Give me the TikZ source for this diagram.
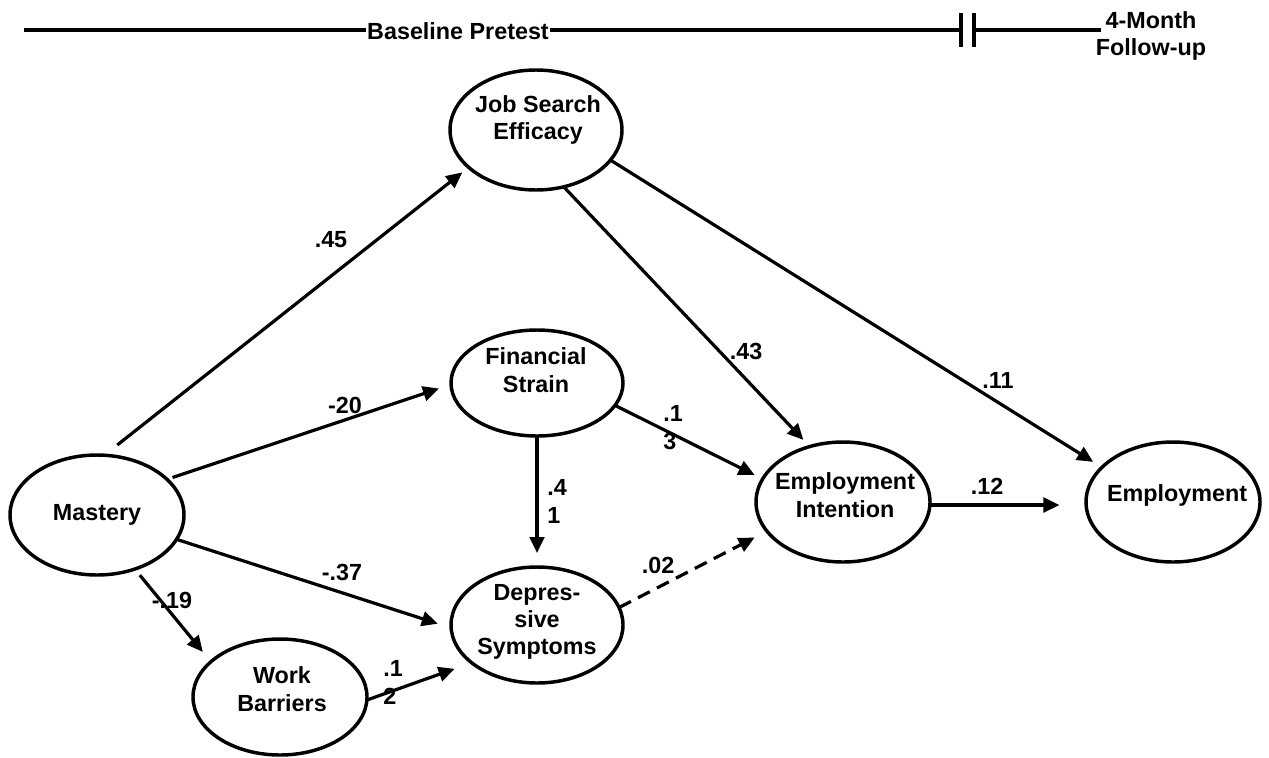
\documentclass[tikz,border=0pt]{standalone}
\usepackage{fontspec}
\setmainfont{Liberation Sans}
\usetikzlibrary{arrows.meta,shapes.geometric}
\begin{document}
\begin{tikzpicture}[x=0.75pt,y=-0.75pt,
  el/.style={draw, ellipse, line width=2.6pt, inner sep=0pt, outer sep=0pt},
  txt/.style={font=\fontsize{17.5}{20.5}\selectfont\bfseries, inner sep=0pt, align=center},
  num/.style={font=\fontsize{17.5}{21}\selectfont\bfseries, inner sep=0pt, align=left},
  conn/.style={line width=2.4pt, -{Triangle[length=12pt,width=11pt]}},
  tline/.style={line width=2.5pt}
]
\useasboundingbox (0,0) rectangle (1269,757);

% timeline
\node[txt, inner xsep=1pt] (bp) at (458,31) {Baseline Pretest};
\coordinate (t0) at (24,30);
\coordinate (g1) at (961,30);
\coordinate (g2) at (974,30);
\coordinate (g1a) at (961,13);
\coordinate (g1b) at (961,47);
\coordinate (g2a) at (974,13);
\coordinate (g2b) at (974,47);
\coordinate (t1) at (1101,30);
\node[txt] (fu) at (1151,36) {4-Month\\Follow-up};
\draw[tline] (t0) -- (bp.west |- t0);
\draw[tline] (bp.east |- t0) -- (g1);
\draw[tline] (g2) -- (t1);
\draw[tline] (g1a) -- (g1b);
\draw[tline] (g2a) -- (g2b);

% ellipses
\node[el, minimum width=130.5pt, minimum height=90pt] (ms) at (97,515) {};
\node[el, minimum width=129pt, minimum height=90pt] (jse) at (536,130) {};
\node[el, minimum width=129pt, minimum height=79.5pt] (fs) at (537,383) {};
\node[el, minimum width=129pt, minimum height=87pt] (ds) at (537,625) {};
\node[el, minimum width=130.5pt, minimum height=90pt] (ei) at (843,502) {};
\node[el, minimum width=130.5pt, minimum height=90pt] (em) at (1173,502) {};
\node[el, minimum width=130.5pt, minimum height=87pt] (wb) at (280,697) {};

% texts
\node[txt] (mst) at (97,515) {Mastery};
\node[txt] (jset) at (538,120) {Job Search\\Efficacy};
\node[txt] (fst) at (536,370) {Financial\\Strain};
\node[txt] (dst) at (537,622) {Depres-\\sive\\Symptoms};
\node[txt] (eit) at (845,495) {Employment\\Intention};
\node[txt] (emt) at (1177,495) {Employment};
\node[txt] (wbt) at (282,689) {Work\\Barriers};

% connectors
\draw[conn, shorten <=12.4pt, shorten >=6.1pt] (ms.83.3) -- (jse.209.7);
\draw[conn, shorten <=4.4pt, shorten >=9.5pt] (ms.27.5) -- (fs.181.3);
\draw[conn, shorten >=10.5pt] (ms.343.7) -- (ds.182.9);
\draw[conn, shorten <=5.9pt, shorten >=9.5pt] (ms.305.2) -- (wb.153.0);
\draw[conn, shorten >=13.6pt] (wb.358) -- (ds.210.3);
\draw[conn, shorten <=0.75pt, shorten >=10.5pt] (fs.270) -- (ds.90);
\draw[conn, shorten >=6.75pt] (fs.344.2) -- (ei.164.9);
\draw[conn, dash pattern=on 10pt off 6pt, shorten >=10.4pt] (ds.12.6) -- (ei.201.4);
\draw[conn, shorten >=6.9pt] (jse.296.8) -- (ei.121.4);
\draw[conn, shorten >=7.8pt] (jse.338.5) -- (em.154.1);
\draw[conn, shorten >=20pt] (ei.358) -- (em.182);

% labels
\node[num] (l45) at (331,240) {.45};
\node[num] (l20) at (345,405) {-20};
\node[num] (l37) at (342,572) {-.37};
\node[num] (l19) at (172,600) {-.19};
\node[num, anchor=west] (l12a) at (383,682) {.1\\2};
\node[num, anchor=west] (l41) at (547,501) {.4\\1};
\node[num, anchor=west] (l13) at (663,428) {.1\\3};
\node[num] (l02) at (658,565) {.02};
\node[num] (l43) at (746,351) {.43};
\node[num] (l11) at (998,380) {.11};
\node[num] (l12) at (987,486) {.12};
\end{tikzpicture}
\end{document}
